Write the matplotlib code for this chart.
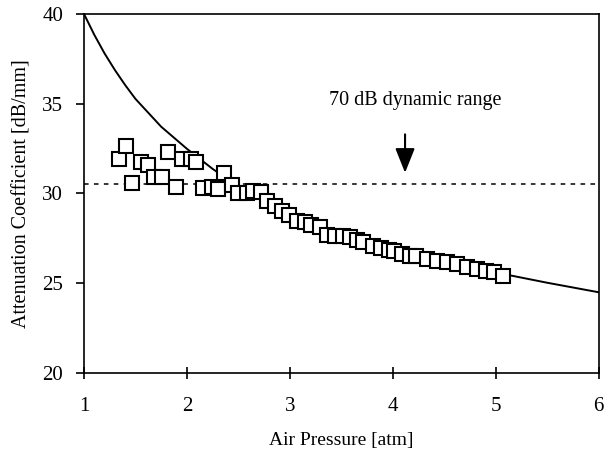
import matplotlib
matplotlib.use("Agg")
import matplotlib.pyplot as plt

plt.rcParams['font.family'] = ['Liberation Serif', 'DejaVu Serif']

# Measured data (squares)
pressure_meas = [1.34, 1.41, 1.47, 1.55, 1.62, 1.68, 1.76, 1.82, 1.89, 1.95,
                 2.04, 2.09, 2.16, 2.24, 2.30, 2.36, 2.435, 2.50, 2.58, 2.645,
                 2.72, 2.775, 2.855, 2.92, 2.99, 3.07, 3.15, 3.21, 3.29, 3.36,
                 3.44, 3.52, 3.585, 3.65, 3.71, 3.81, 3.89, 3.96, 4.01, 4.09,
                 4.17, 4.23, 4.33, 4.43, 4.525, 4.62, 4.72, 4.82, 4.91, 4.98, 5.07]
atten_meas = [31.92, 32.63, 30.58, 31.73, 31.60, 30.90, 30.91, 32.31, 30.35, 31.92,
              31.90, 31.75, 30.28, 30.35, 30.26, 31.13, 30.45, 30.02, 30.02, 30.13,
              30.10, 29.60, 29.33, 29.05, 28.80, 28.45, 28.40, 28.27, 28.12, 27.70,
              27.62, 27.65, 27.56, 27.40, 27.28, 27.09, 26.97, 26.88, 26.82, 26.63,
              26.54, 26.54, 26.35, 26.26, 26.16, 26.07, 25.88, 25.79, 25.70, 25.60, 25.42]

# Model curve
pressure_curve = [1.0, 1.1, 1.2, 1.3, 1.4, 1.5, 1.75, 2.0, 2.25, 2.5, 2.75,
                  3.0, 3.5, 4.0, 4.5, 5.0, 5.5, 6.0]
atten_curve = [40.0, 38.84, 37.80, 36.88, 36.04, 35.27, 33.72, 32.49, 31.37, 30.39, 29.53,
               28.75, 27.57, 26.70, 26.09, 25.60, 25.03, 24.50]

dynamic_range_level = 30.55
x_ticks = [1, 2, 3, 4, 5, 6]
y_ticks = [20, 25, 30, 35, 40]

fig = plt.figure(figsize=(6.07, 4.54), dpi=100)
ax = fig.add_axes([0.1384, 0.1784, 0.986 - 0.1384, 0.9692 - 0.1784])

ax.plot(pressure_curve, atten_curve, color='black', lw=1.4, zorder=2)
ax.axhline(dynamic_range_level, color='black', lw=1.1, ls=(0, (3, 3.5)), zorder=1)
ax.plot(pressure_meas, atten_meas, ls='none', marker='s', markersize=9.8,
        markerfacecolor='white', markeredgecolor='black', markeredgewidth=1.5, zorder=3)

ax.annotate('', xy=(4.12, 31.0), xytext=(4.12, 33.45),
            arrowprops=dict(arrowstyle='-|>,head_length=1.5,head_width=0.6',
                            color='black', lw=1.5))
ax.text(4.22, 35.2, '70 dB dynamic range', ha='center', va='center', fontsize=14.5)

ax.set_xlim(1, 6)
ax.set_ylim(20, 40)
ax.set_xticks(x_ticks)
ax.set_yticks(y_ticks)
ax.tick_params(axis='x', direction='inout', length=8, width=1.2, labelsize=15, pad=13)
ax.tick_params(axis='y', direction='out', length=6, width=1.2, labelsize=15, pad=9)
for s in ax.spines.values():
    s.set_linewidth(1.2)

ax.set_xlabel('Air Pressure [atm]', fontsize=14, labelpad=12)
ax.set_ylabel('Attenuation Coefficient [dB/mm]', fontsize=14.5, labelpad=8)

fig.savefig('out.png', dpi=100)
